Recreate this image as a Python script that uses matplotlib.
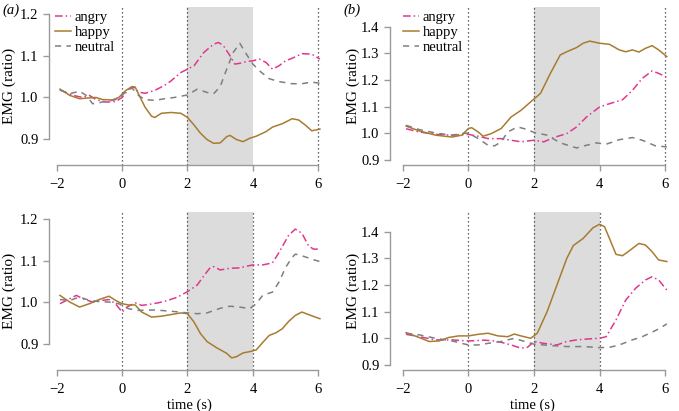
import numpy as np
import matplotlib
matplotlib.use("Agg")
import matplotlib.pyplot as plt
from matplotlib.transforms import blended_transform_factory

plt.rcParams['font.family'] = ['Liberation Serif', 'DejaVu Serif']
plt.rcParams['font.size'] = 9

# ---- data: (time, ratio) ----
# panel (a), top
a1_angry_t = [-1.9, -1.5, -1.2, -1.0, -0.8, -0.5, -0.2, 0.0, 0.2, 0.35, 0.5, 0.7, 1.0, 1.3, 1.5, 1.8, 2.0, 2.2, 2.5, 2.8, 2.95, 3.1, 3.3, 3.45, 3.6, 3.8, 4.0, 4.2, 4.4, 4.6, 4.8, 5.0, 5.2, 5.5, 5.8, 6.05]
a1_angry_v = [1.018, 1.005, 1.0, 1.005, 0.995, 0.989, 0.99, 1.0, 1.02, 1.025, 1.013, 1.01, 1.017, 1.029, 1.04, 1.06, 1.068, 1.076, 1.108, 1.128, 1.132, 1.124, 1.1, 1.08, 1.082, 1.086, 1.088, 1.092, 1.084, 1.068, 1.076, 1.088, 1.094, 1.105, 1.104, 1.092]
a1_happy_t = [-1.9, -1.6, -1.3, -1.0, -0.8, -0.6, -0.3, -0.1, 0.1, 0.3, 0.4, 0.5, 0.7, 0.9, 1.0, 1.2, 1.5, 1.8, 2.0, 2.2, 2.4, 2.6, 2.8, 3.0, 3.2, 3.3, 3.5, 3.7, 3.9, 4.1, 4.4, 4.6, 4.9, 5.2, 5.4, 5.6, 5.8, 6.05]
a1_happy_v = [1.02, 1.005, 0.997, 0.999, 1.0, 0.995, 0.994, 1.0, 1.016, 1.026, 1.025, 1.009, 0.977, 0.955, 0.952, 0.962, 0.964, 0.962, 0.952, 0.934, 0.914, 0.899, 0.89, 0.891, 0.906, 0.909, 0.899, 0.894, 0.902, 0.907, 0.918, 0.929, 0.937, 0.949, 0.946, 0.934, 0.92, 0.924]
a1_neutral_t = [-1.9, -1.6, -1.3, -1.1, -0.9, -0.6, -0.3, -0.1, 0.1, 0.3, 0.5, 0.7, 1.0, 1.3, 1.6, 2.0, 2.3, 2.6, 2.8, 3.0, 3.2, 3.4, 3.6, 3.8, 4.0, 4.2, 4.5, 4.8, 5.2, 5.5, 5.8, 6.05]
a1_neutral_v = [1.018, 1.009, 1.015, 1.005, 0.985, 0.989, 0.993, 0.997, 1.013, 1.023, 1.005, 0.995, 0.993, 0.997, 1.0, 1.006, 1.02, 1.012, 1.009, 1.026, 1.068, 1.108, 1.13, 1.104, 1.08, 1.064, 1.045, 1.038, 1.033, 1.033, 1.037, 1.034]

# panel (a), bottom
a2_angry_t = [-1.9, -1.6, -1.4, -1.2, -0.9, -0.6, -0.4, -0.2, 0.0, 0.15, 0.4, 0.6, 0.8, 1.1, 1.4, 1.7, 2.0, 2.3, 2.5, 2.7, 2.8, 3.0, 3.3, 3.6, 3.8, 4.0, 4.3, 4.6, 4.8, 5.1, 5.3, 5.5, 5.7, 5.85, 6.05]
a2_angry_v = [0.997, 1.009, 1.017, 1.009, 1.001, 1.005, 1.007, 0.997, 0.977, 0.989, 0.999, 0.993, 0.995, 0.999, 1.005, 1.013, 1.026, 1.042, 1.064, 1.084, 1.086, 1.078, 1.082, 1.083, 1.087, 1.09, 1.09, 1.095, 1.12, 1.162, 1.176, 1.166, 1.136, 1.128, 1.128]
a2_happy_t = [-1.9, -1.6, -1.3, -1.0, -0.7, -0.4, -0.2, 0.0, 0.2, 0.4, 0.6, 0.9, 1.2, 1.5, 1.8, 2.0, 2.2, 2.4, 2.6, 2.9, 3.2, 3.35, 3.5, 3.7, 3.9, 4.1, 4.3, 4.5, 4.7, 4.9, 5.1, 5.3, 5.5, 5.7, 6.05]
a2_happy_v = [1.017, 1.001, 0.989, 0.997, 1.007, 1.015, 1.005, 0.997, 0.994, 0.994, 0.977, 0.965, 0.967, 0.971, 0.975, 0.973, 0.953, 0.925, 0.906, 0.891, 0.878, 0.867, 0.87, 0.879, 0.882, 0.886, 0.904, 0.921, 0.927, 0.937, 0.955, 0.969, 0.977, 0.971, 0.961]
a2_neutral_t = [-1.9, -1.6, -1.3, -1.0, -0.7, -0.4, -0.1, 0.2, 0.5, 1.0, 1.5, 2.0, 2.3, 2.6, 3.0, 3.3, 3.6, 3.9, 4.1, 4.3, 4.6, 4.8, 5.0, 5.2, 5.3, 5.5, 5.8, 6.05]
a2_neutral_v = [1.007, 1.005, 1.013, 1.005, 1.002, 1.001, 0.997, 0.985, 0.981, 0.982, 0.979, 0.975, 0.973, 0.975, 0.986, 0.991, 0.989, 0.985, 0.997, 1.017, 1.025, 1.049, 1.084, 1.108, 1.116, 1.112, 1.104, 1.098]

# panel (b), top
b1_angry_t = [-1.9, -1.5, -1.0, -0.5, 0.0, 0.3, 0.6, 1.0, 1.3, 1.6, 2.0, 2.3, 2.6, 3.0, 3.3, 3.6, 4.0, 4.3, 4.7, 5.0, 5.3, 5.6, 5.8, 6.05]
b1_angry_v = [1.017, 1.005, 0.996, 0.993, 0.996, 0.989, 0.98, 0.98, 0.974, 0.968, 0.974, 0.968, 0.984, 0.999, 1.024, 1.061, 1.099, 1.111, 1.126, 1.161, 1.206, 1.234, 1.225, 1.21]
b1_happy_t = [-1.9, -1.5, -1.0, -0.5, -0.2, 0.0, 0.1, 0.3, 0.45, 0.7, 1.0, 1.3, 1.6, 1.9, 2.2, 2.5, 2.8, 3.0, 3.3, 3.5, 3.7, 4.0, 4.3, 4.6, 4.8, 5.0, 5.2, 5.4, 5.6, 5.8, 6.05]
b1_happy_v = [1.027, 1.009, 0.993, 0.986, 0.993, 1.018, 1.021, 1.005, 0.989, 0.999, 1.018, 1.061, 1.086, 1.118, 1.15, 1.225, 1.294, 1.306, 1.322, 1.338, 1.346, 1.338, 1.334, 1.313, 1.306, 1.313, 1.305, 1.319, 1.329, 1.313, 1.288]
b1_neutral_t = [-1.9, -1.5, -1.0, -0.5, -0.2, 0.0, 0.3, 0.6, 0.8, 1.0, 1.2, 1.5, 1.8, 2.0, 2.4, 2.8, 3.3, 3.6, 3.9, 4.2, 4.6, 5.0, 5.3, 5.7, 6.05]
b1_neutral_v = [1.03, 1.014, 1.001, 0.993, 0.999, 1.001, 0.98, 0.955, 0.953, 0.968, 1.005, 1.024, 1.014, 1.003, 0.993, 0.964, 0.945, 0.955, 0.964, 0.959, 0.976, 0.984, 0.974, 0.953, 0.949]

# panel (b), bottom
b2_angry_t = [-1.9, -1.5, -1.0, -0.5, 0.0, 0.5, 0.8, 1.0, 1.3, 1.6, 1.8, 2.0, 2.3, 2.7, 3.0, 3.3, 3.7, 4.0, 4.2, 4.5, 4.8, 5.1, 5.4, 5.6, 5.8, 6.05]
b2_angry_v = [1.015, 1.006, 0.994, 0.994, 0.99, 0.993, 0.99, 0.985, 0.975, 0.963, 0.966, 0.988, 0.981, 0.975, 0.988, 0.994, 0.998, 1.0, 1.006, 1.069, 1.144, 1.188, 1.219, 1.231, 1.219, 1.181]
b2_happy_t = [-1.9, -1.5, -1.2, -0.9, -0.6, -0.3, 0.0, 0.3, 0.6, 0.9, 1.2, 1.4, 1.6, 1.9, 2.1, 2.4, 2.7, 3.0, 3.2, 3.5, 3.8, 4.0, 4.15, 4.3, 4.5, 4.7, 4.9, 5.2, 5.4, 5.6, 5.8, 6.05]
b2_happy_v = [1.021, 1.003, 0.988, 0.99, 1.003, 1.009, 1.009, 1.015, 1.019, 1.009, 1.006, 1.016, 1.009, 1.0, 1.019, 1.1, 1.2, 1.3, 1.348, 1.375, 1.415, 1.428, 1.419, 1.375, 1.315, 1.31, 1.328, 1.356, 1.35, 1.325, 1.294, 1.288]
b2_neutral_t = [-1.9, -1.5, -1.0, -0.5, 0.0, 0.3, 0.6, 1.0, 1.4, 1.8, 2.0, 2.5, 3.0, 3.5, 4.0, 4.3, 4.6, 5.0, 5.3, 5.6, 5.8, 6.05]
b2_neutral_v = [1.019, 1.013, 1.0, 0.99, 0.975, 0.975, 0.981, 0.988, 1.0, 0.985, 0.978, 0.973, 0.969, 0.969, 0.965, 0.966, 0.975, 0.994, 1.006, 1.023, 1.035, 1.054]

a_yticks = [0.9, 1.0, 1.1, 1.2]
b_yticks = [0.9, 1.0, 1.1, 1.2, 1.3, 1.4]
xticks = [-2, 0, 2, 4, 6]
labels = ['angry', 'happy', 'neutral']

c_angry = '#e0388e'
c_happy = '#a87c30'
c_neutral = '#7f7f7f'
axis_col = '#9a9a9a'

W, H = 679, 411
fig = plt.figure(figsize=(W / 100, H / 100), dpi=100)


def make_ax(left_px, top_px, bottom_px, xlim, ylim, width_per_unit):
    width_px = (xlim[1] - xlim[0]) * width_per_unit
    ax = fig.add_axes([left_px / W, 1 - bottom_px / H, width_px / W, (bottom_px - top_px) / H])
    ax.set_xlim(*xlim)
    ax.set_ylim(*ylim)
    return ax


def draw(ax, series, yticks, vlines, ylab_x, xlabel=False, leg_px=None):
    ax.axvspan(2, 4, color='#dcdcdc', lw=0, zorder=0)
    for v in vlines:
        ax.axvline(v, color='#333333', lw=0.9, ls=(0, (1, 2.2)), zorder=1)
    styles = [dict(color=c_angry, ls=(0, (5, 2, 1, 2))),
              dict(color=c_happy, ls='-'),
              dict(color=c_neutral, ls=(0, (4, 3.5)))]
    for (t, v), st, lab in zip(series, styles, labels):
        ax.plot(t, v, lw=1.1, label=lab, zorder=3, **st)
    for s in ['top', 'right']:
        ax.spines[s].set_visible(False)
    ax.spines['left'].set_bounds(yticks[0], yticks[-1])
    ax.spines['bottom'].set_bounds(-2, 6)
    for s in ['left', 'bottom']:
        ax.spines[s].set_color(axis_col)
        ax.spines[s].set_linewidth(1.0)
    ax.set_yticks(yticks)
    ax.set_yticklabels(['%.1f' % y for y in yticks])
    ax.set_xticks(xticks)
    ax.tick_params(colors=axis_col, labelcolor='black', labelsize=10.5, length=4, width=1.0)
    ax.tick_params(axis='x', pad=5)
    # y label placed at a fixed figure x position
    fig.text(ylab_x / W, 0.5, 'EMG (ratio)', rotation=90, fontsize=11,
             ha='center', va='center',
             transform=blended_transform_factory(fig.transFigure, ax.transAxes))
    if xlabel:
        ax.set_xlabel('time (s)', fontsize=10.5, labelpad=2)
    if leg_px is not None:
        ax.legend(loc='upper left', bbox_to_anchor=(leg_px[0] / W, 1 - leg_px[1] / H),
                  bbox_transform=fig.transFigure, frameon=False, fontsize=10.5,
                  handlelength=1.1, handletextpad=0.25, labelspacing=0.12,
                  borderpad=0, borderaxespad=0)


ax1 = make_ax(49, 7, 165, (-2.235, 6.35), (0.838, 1.217), 32.7)
draw(ax1, [(a1_angry_t, a1_angry_v), (a1_happy_t, a1_happy_v), (a1_neutral_t, a1_neutral_v)],
     a_yticks, [0, 2, 6], 9, leg_px=(55, 11))
ax2 = make_ax(49, 212, 370, (-2.235, 6.35), (0.838, 1.217), 32.7)
draw(ax2, [(a2_angry_t, a2_angry_v), (a2_happy_t, a2_happy_v), (a2_neutral_t, a2_neutral_v)],
     a_yticks, [0, 2, 4], 9, xlabel=True)
ax3 = make_ax(390, 7, 165, (-2.39, 6.3), (0.881, 1.474), 32.8)
draw(ax3, [(b1_angry_t, b1_angry_v), (b1_happy_t, b1_happy_v), (b1_neutral_t, b1_neutral_v)],
     b_yticks, [0, 2, 6], 353, leg_px=(403, 11))
ax4 = make_ax(390, 212, 370, (-2.39, 6.3), (0.881, 1.474), 32.8)
draw(ax4, [(b2_angry_t, b2_angry_v), (b2_happy_t, b2_happy_v), (b2_neutral_t, b2_neutral_v)],
     b_yticks, [0, 2, 4], 353, xlabel=True)

fig.text(2 / W, 1 - 10 / H, '(a)', style='italic', fontsize=10.5, va='center', ha='left')
fig.text(343 / W, 1 - 10 / H, '(b)', style='italic', fontsize=10.5, va='center', ha='left')

fig.savefig('out.png', dpi=100)
